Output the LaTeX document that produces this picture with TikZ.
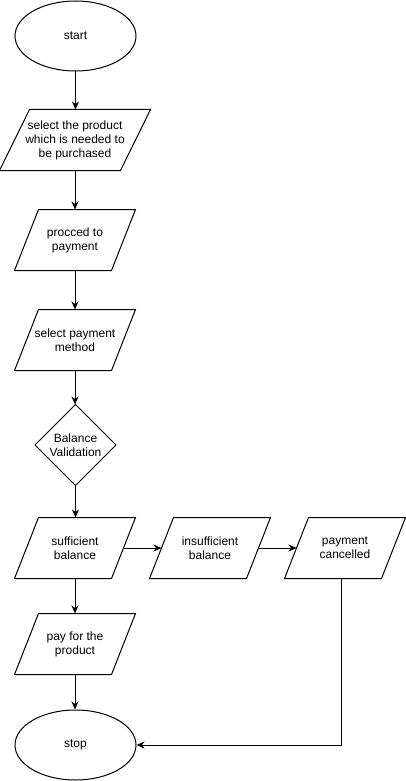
\documentclass[tikz,border=0pt]{standalone}
\usepackage{fontspec}
\setmainfont{Liberation Sans}
\usetikzlibrary{arrows.meta,shapes.geometric}
\begin{document}
\begin{tikzpicture}[x=1pt,y=-1pt,line width=1pt,
  every node/.style={font=\fontsize{12}{14}\selectfont, align=center, inner sep=0pt},
  term/.style={ellipse, draw, minimum width=121pt, minimum height=70pt},
  parabox/.style={rectangle, minimum width=#1, minimum height=60pt},
  decbox/.style={rectangle, minimum width=80pt, minimum height=80pt},
  arr/.style={-{Stealth[length=8pt,width=7pt,inset=2.5pt]}}]
\useasboundingbox (0,0) rectangle (406,781);
\node[term] (start) at (75.5,36) {start};
\node[parabox=120pt] (p1) at (75,140) {select the product\\which is needed to\\be purchased};
\node[parabox=96pt] (p2) at (75,240) {procced to\\payment};
\node[parabox=96pt] (p3) at (75,340) {select payment\\method};
\node[decbox] (d) at (75.5,445) {Balance\\Validation};
\node[parabox=96pt] (p4) at (75,548) {sufficient\\balance};
\node[parabox=96pt] (p5) at (210,548) {insufficient\\balance};
\node[parabox=96pt] (p6) at (345,548) {payment\\cancelled};
\node[parabox=96pt] (p7) at (75,644) {pay for the\\product};
\node[term] (stop) at (75.5,745) {stop};
% parallelogram outlines
\foreach \n/\s in {p1/15,p2/12,p3/12,p4/12,p5/12,p6/12,p7/12}
  \draw ([xshift=\s pt]\n.north west) -- ([xshift=\s pt]\n.north east)
     -- ([xshift=-\s pt]\n.south east) -- ([xshift=-\s pt]\n.south west) -- cycle;
% diamond outline
\draw (d.north) -- (d.east) -- (d.south) -- (d.west) -- cycle;
% connectors
\draw[arr] (start.south) -- (start.south |- p1.north);
\draw[arr] (p1.south) -- (p2.north);
\draw[arr] (p2.south) -- (p3.north);
\draw[arr] (p3.south) -- (p3.south |- d.north);
\draw[arr] (d.south) -- (d.south |- p4.north);
\draw[arr] (p4.east) -- (p5.west);
\draw[arr] (p5.east) -- (p6.west);
\draw[arr] (p4.south) -- (p7.north);
\draw[arr] (p7.south) -- (p7.south |- stop.north);
\draw[arr] ([xshift=-4pt]p6.south) |- (stop.east);
\end{tikzpicture}
\end{document}
